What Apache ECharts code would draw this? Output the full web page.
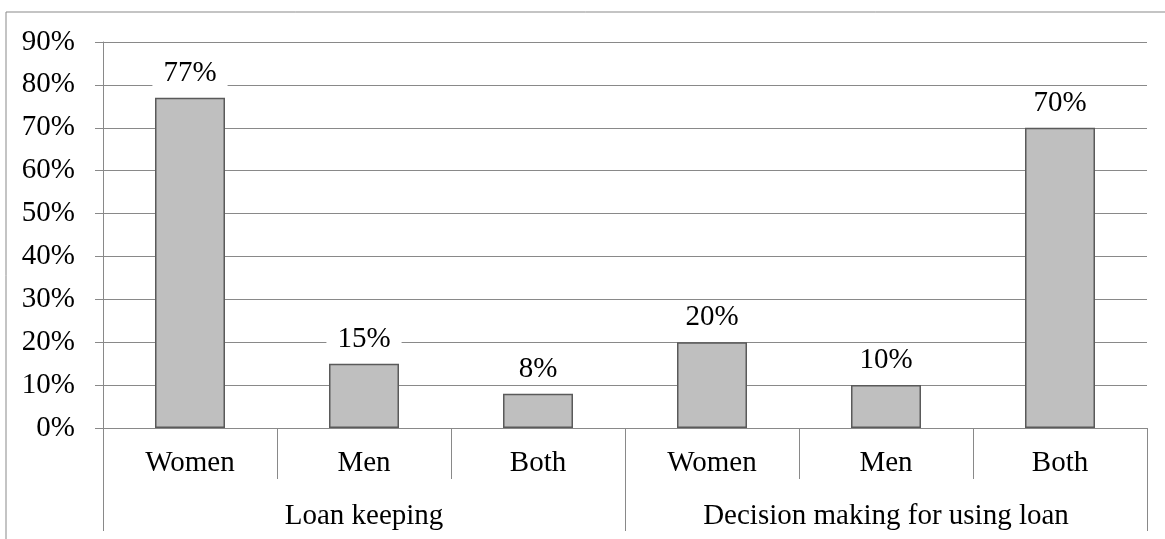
<!DOCTYPE html>
<html>
<head>
<meta charset="utf-8">
<script src="https://cdn.jsdelivr.net/npm/echarts@6/dist/echarts.min.js"></script>
<style>
  html, body { margin: 0; padding: 0; background: #fff; }
  #chart { width: 1165px; height: 539px; }
</style>
</head>
<body>
<div id="chart"></div>
<script>
// 数据
const categories = ['Women', 'Men', 'Both', 'Women', 'Men', 'Both'];
const groups = ['Loan keeping', 'Decision making for using loan'];
const values = [77, 15, 8, 20, 10, 70];

const font = 'Liberation Serif';
const lineColor = '#898989';
const fontSize = 29;

const chart = echarts.init(document.getElementById('chart'));

const option = {
    animation: false,
    backgroundColor: '#fff',
    grid: {
        left: 103,
        right: 18,
        top: 42,
        bottom: 111,
    },
    // 外边框
    graphic: [
        {type: 'line', shape: {x1: 6, y1: 12, x2: 1165, y2: 12}, style: {stroke: lineColor, lineWidth: 1}},
        {type: 'line', shape: {x1: 6, y1: 12, x2: 6, y2: 539}, style: {stroke: lineColor, lineWidth: 1}},
    ],
    xAxis: [
        {
            type: 'category',
            data: categories,
            position: 'bottom',
            axisLine: {show: true, lineStyle: {color: lineColor}},
            axisTick: {show: true, length: 51, lineStyle: {color: lineColor}},
            axisLabel: {interval: 0, margin: 21, color: '#000', fontFamily: font, fontSize: fontSize},
        },
        {
            type: 'category',
            data: groups,
            position: 'bottom',
            axisLine: {show: false},
            axisTick: {show: true, length: 103, lineStyle: {color: lineColor}},
            axisLabel: {interval: 0, margin: 74, color: '#000', fontFamily: font, fontSize: fontSize},
        },
    ],
    yAxis: {
        type: 'value',
        min: 0,
        max: 90,
        interval: 10,
        axisLine: {show: true, lineStyle: {color: lineColor}},
        axisTick: {show: true, length: 8, lineStyle: {color: lineColor}},
        axisLabel: {formatter: '{value}%', margin: 28, color: '#000', fontFamily: font, fontSize: fontSize},
        splitLine: {show: true, lineStyle: {color: lineColor}},
    },
    series: [
        {
            type: 'bar',
            xAxisIndex: 0,
            data: values,
            barWidth: 70,
            itemStyle: {color: '#bfbfbf', borderColor: '#5a5a5a', borderWidth: 1.5},
            label: {
                show: true,
                position: 'top',
                distance: 10,
                formatter: '{c}%',
                color: '#000',
                fontFamily: font,
                fontSize: fontSize,
                backgroundColor: '#fff',
                padding: [0, 11],
            },
        },
    ],
};
chart.setOption(option);
</script>
</body>
</html>
